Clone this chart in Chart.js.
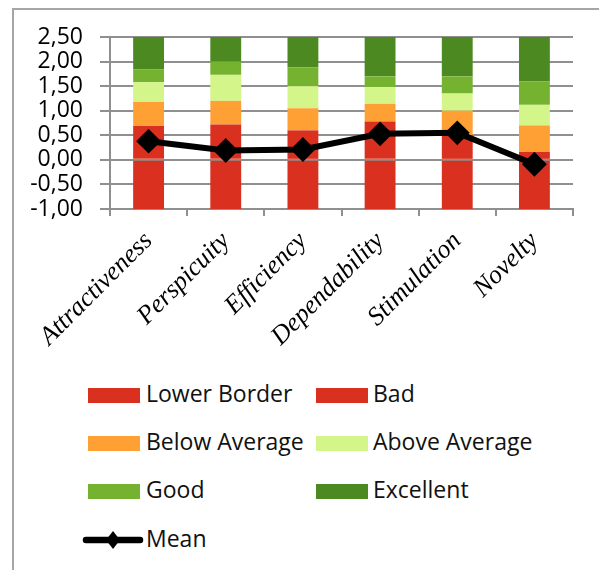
<!DOCTYPE html>
<html>
<head>
<meta charset="utf-8">
<script src="https://cdn.jsdelivr.net/npm/chart.js@4/dist/chart.umd.min.js"></script>
<style>
  html, body { margin: 0; padding: 0; background: #fff; }
  #wrap { position: relative; width: 599px; height: 570px; overflow: hidden; }
  #frame { position: absolute; left: 12px; top: 8px; width: 700px; height: 700px;
           border-left: 2px solid #a6a6a6; border-top: 2px solid #a6a6a6; }
  #chart { position: absolute; left: 0; top: 0; }
  .lg { position: absolute; font-family: "Open Sans", sans-serif; font-size: 23px; color: #111;
        line-height: 1; white-space: nowrap; }
  .sw { position: absolute; width: 52px; height: 15px; }
</style>
</head>
<body>
<div id="wrap">
  <div id="frame"></div>
  <canvas id="chart" width="599" height="370"></canvas>
  <div id="legend"></div>
</div>
<script>
// UEQ scales and benchmark interval widths
const categories = ['Attractiveness', 'Perspicuity', 'Efficiency', 'Dependability', 'Stimulation', 'Novelty'];
const lowerBorder  = [-1, -1, -1, -1, -1, -1];
const bad          = [0.69, 0.72, 0.60, 0.78, 0.50, 0.16];
const belowAverage = [0.49, 0.48, 0.45, 0.36, 0.50, 0.54];
const aboveAverage = [0.40, 0.53, 0.45, 0.34, 0.35, 0.42];
const good         = [0.26, 0.27, 0.38, 0.22, 0.35, 0.48];
const excellent    = [0.66, 0.50, 0.62, 0.80, 0.80, 0.90];
const mean         = [0.38, 0.19, 0.21, 0.53, 0.55, -0.09];
const yTicks       = [-1, -0.5, 0, 0.5, 1, 1.5, 2, 2.5];

const RED = '#d9301f', ORANGE = '#ffa035', LIGHT = '#d4f58a', GOOD = '#74b230', EXC = '#4c8a21';
const GRID = '#8f8f8f';

const bar = (label, data, color) => ({
  type: 'bar', label, data, backgroundColor: color, borderWidth: 0,
  stack: 'bench', barPercentage: 0.4, categoryPercentage: 1, order: 2
});

const chart = new Chart(document.getElementById('chart'), {
  data: {
    labels: categories,
    datasets: [
      bar('Lower Border', lowerBorder, RED),
      bar('Bad', bad, RED),
      bar('Below Average', belowAverage, ORANGE),
      bar('Above Average', aboveAverage, LIGHT),
      bar('Good', good, GOOD),
      bar('Excellent', excellent, EXC),
      {
        type: 'line', label: 'Mean', data: mean, stack: 'mean', order: 1,
        borderColor: '#000', borderWidth: 6, pointStyle: 'rectRot', pointRadius: 11,
        pointBackgroundColor: '#000', pointBorderColor: '#000', pointBorderWidth: 2,
        tension: 0
      }
    ]
  },
  options: {
    responsive: false,
    animation: false,
    devicePixelRatio: 1,
    layout: { padding: { left: 0, top: 37, right: 26, bottom: 0 } },
    plugins: { legend: { display: false }, tooltip: { enabled: false } },
    scales: {
      x: {
        type: 'category', offset: true, stacked: true,
        grid: { drawOnChartArea: false, drawTicks: true, tickLength: 7, color: GRID, lineWidth: 2, offset: true },
        border: { color: GRID, width: 2 },
        ticks: {
          autoSkip: false, minRotation: 45, maxRotation: 45, padding: 10, color: '#000',
          font: { family: '"Liberation Serif", "Times New Roman", serif', style: 'italic', size: 26 }
        },
        afterFit: s => { s.height = 370 - 209; }
      },
      y: {
        stacked: true, min: -1, max: 2.5,
        grid: { color: GRID, lineWidth: 2, tickLength: 10 },
        border: { color: GRID, width: 2 },
        afterBuildTicks: s => { s.ticks = yTicks.map(v => ({ value: v })); },
        ticks: {
          autoSkip: false, padding: 17, color: '#000',
          font: { family: '"Open Sans", sans-serif', size: 23 },
          callback: v => v.toFixed(2).replace('.', ',')
        },
        afterFit: s => { s.width = 110; }
      }
    }
  }
});

// Legend laid out in a two-column grid below the plot
(function buildLegend() {
  const host = document.getElementById('legend');
  const rowY = [395, 443, 491, 540];
  const colBox = [88, 316], colText = [146, 373];
  chart.data.datasets.forEach((ds, i) => {
    const r = Math.floor(i / 2), c = i % 2;
    const cy = rowY[r];
    if (ds.type === 'bar') {
      const sw = document.createElement('div');
      sw.className = 'sw';
      sw.style.left = colBox[c] + 'px';
      sw.style.top = (cy - 7.5) + 'px';
      sw.style.background = ds.backgroundColor;
      host.appendChild(sw);
    } else {
      const ns = 'http://www.w3.org/2000/svg';
      const svg = document.createElementNS(ns, 'svg');
      svg.setAttribute('width', '62'); svg.setAttribute('height', '24');
      svg.style.position = 'absolute';
      svg.style.left = (colBox[c] - 6) + 'px';
      svg.style.top = (cy - 12) + 'px';
      svg.innerHTML = '<line x1="4" y1="12" x2="58" y2="12" stroke="#000" stroke-width="6.5" stroke-linecap="round"/>' +
                      '<polygon points="31,3 38,12 31,21 24,12" fill="#000"/>';
      host.appendChild(svg);
    }
    const t = document.createElement('div');
    t.className = 'lg';
    t.textContent = ds.label;
    t.style.left = colText[c] + 'px';
    t.style.top = (cy - 13) + 'px';
    host.appendChild(t);
  });
})();
</script>
</body>
</html>
